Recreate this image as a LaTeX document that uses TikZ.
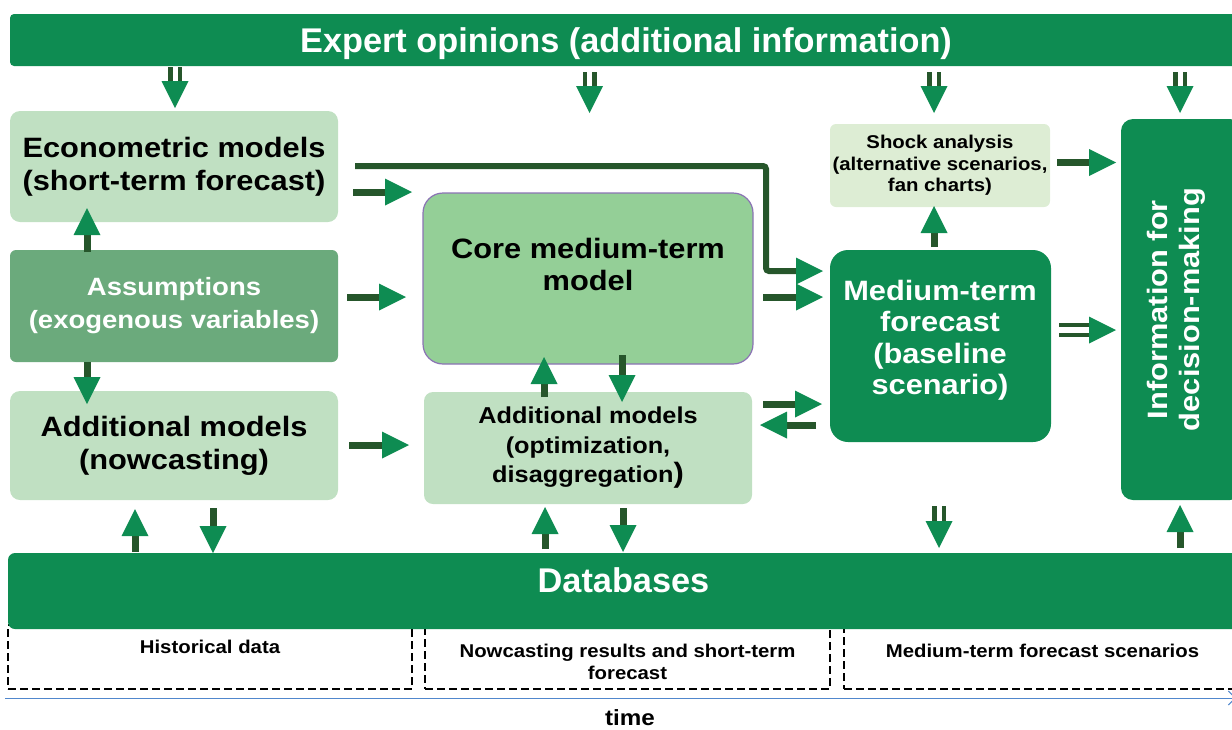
\documentclass[tikz,border=0pt]{standalone}
\usepackage{fontspec}
\setmainfont{Liberation Sans}
\newfontfamily\swfont{Liberation Sans}[FakeStretch=1.1]
\usetikzlibrary{arrows.meta,calc}
\definecolor{hg}{RGB}{14,140,82}
\definecolor{shaftc}{RGB}{38,86,43}
\definecolor{lightg}{RGB}{192,224,194}
\definecolor{assumc}{RGB}{107,170,124}
\definecolor{corec}{RGB}{148,207,151}
\definecolor{shockc}{RGB}{221,237,212}
\definecolor{corebord}{RGB}{139,115,180}
\definecolor{timeblue}{RGB}{80,135,205}
\begin{document}
\begin{tikzpicture}[x=1pt,y=-1pt,
  box/.style={rectangle, inner sep=0pt, align=center},
  txt/.style={inner sep=0pt, align=center},
  dbox/.style={rectangle, draw=black, line width=1.1pt, dash pattern=on 8pt off 4pt, inner sep=0pt},
  lab/.style={inner sep=0pt, align=center, font=\swfont\bfseries\fontsize{18.5}{22}\selectfont},
  arr/.style={draw=shaftc, line width=7pt, -{Triangle[length=27pt, width=27pt, line width=0pt, color=hg]}},
  dshaft/.style={draw=shaftc, line width=4.5pt, double=white, double distance=5pt},
  headonly/.style={draw=hg, line width=0.01pt, -{Triangle[length=27pt, width=27pt, line width=0pt, color=hg]}},
  timeline/.style={draw=timeblue, line width=1pt, -{Straight Barb[length=7pt, width=14pt, line width=1pt]}}
]
\useasboundingbox (0,0) rectangle (1232,729);

% ---- dashed period boxes (behind the database bar)
\node[dbox, minimum width=404pt, minimum height=64pt] (h1) at (210,657) {};
\node[dbox, minimum width=405pt, minimum height=64pt] (h2) at (627.5,657) {};
\node[dbox, minimum width=400pt, minimum height=64pt] (h3) at (1044,657) {};
\node[lab, anchor=base] (h1t) at (210,653) {Historical data};
\node[lab, anchor=north] (h2t) at (627.5,643.5) {Nowcasting results and short-term\\forecast};
\node[lab, anchor=base] (h3t) at (1042.5,657) {Medium-term forecast scenarios};

% ---- main bars
\node[box, fill=hg, rounded corners=4pt, minimum width=1232pt, minimum height=52pt] (expert) at (626,40) {};
\node[txt, text=white, font=\bfseries\fontsize{34.3}{36}\selectfont] (experttxt) at (626,44) {Expert opinions (additional information)};
\node[box, fill=hg, rounded corners=7pt, minimum width=1232pt, minimum height=76pt] (db) at (624,591) {};
\node[txt, text=white, font=\bfseries\fontsize{34.3}{36}\selectfont] (dbtxt) at (623.5,580) {Databases};

% ---- left column
\node[box, fill=lightg, rounded corners=10pt, minimum width=328pt, minimum height=111pt,
  font=\swfont\bfseries\fontsize{28}{33}\selectfont] (econ) at (174,166.5) {Econometric models\\(short-term forecast)};
\node[box, fill=assumc, rounded corners=6pt, minimum width=328pt, minimum height=112pt, text=white,
  font=\swfont\bfseries\fontsize{25}{33}\selectfont] (assum) at (174,306) {Assumptions\\(exogenous variables)};
\node[box, fill=lightg, rounded corners=10pt, minimum width=328pt, minimum height=109pt,
  font=\swfont\bfseries\fontsize{28}{33}\selectfont] (nowc) at (174,445.5) {Additional models\\(nowcasting)};

% ---- middle column
\node[box, fill=corec, draw=corebord, line width=1.2pt, rounded corners=20pt, minimum width=330pt, minimum height=171pt] (core) at (588,278.5) {};
\node[txt, font=\swfont\bfseries\fontsize{28}{32}\selectfont] (coretxt) at (588,264) {Core medium-term\\model};
\node[box, fill=lightg, rounded corners=9pt, minimum width=328pt, minimum height=112pt,
  font=\swfont\bfseries\fontsize{23}{29.5}\selectfont] (addm) at (588,448) {Additional models\\(optimization,\\disaggregation{\fontsize{28}{28}\selectfont)}};

% ---- right columns
\node[box, fill=shockc, rounded corners=6pt, minimum width=220pt, minimum height=83pt,
  font=\swfont\bfseries\fontsize{18.5}{21.5}\selectfont] (shock) at (940,165.5) {Shock analysis\\(alternative scenarios,\\fan charts)};
\node[box, fill=hg, rounded corners=18pt, minimum width=221pt, minimum height=192pt] (medium) at (940.5,346) {};
\node[txt, text=white, font=\swfont\bfseries\fontsize{28}{31.5}\selectfont] (mediumtxt) at (940,340.5) {Medium-term\\forecast\\(baseline\\scenario)};
\node[box, fill=hg, rounded corners=12pt, minimum width=121pt, minimum height=381pt] (info) at (1181.5,309.5) {};
\node[txt, text=white, rotate=90, font=\swfont\bfseries\fontsize{28}{32}\selectfont] (infotxt) at (1176,309.5) {Information for\\decision-making};

% ---- time axis
\coordinate (tl0) at (5,698);
\coordinate (tl1) at (1236,698);
\draw[timeline] (tl0) -- (tl1);
\node[txt, font=\swfont\bfseries\fontsize{22}{24}\selectfont] (timetxt) at (630,718) {time};

% ---- single block arrows
\coordinate (a1s) at (353,192);   \coordinate (a1e) at (412,192);
\coordinate (a2s) at (347,297);   \coordinate (a2e) at (406,297);
\coordinate (a3s) at (349,445);   \coordinate (a3e) at (409,445);
\coordinate (a4s) at (763,297);   \coordinate (a4e) at (823,297);
\coordinate (a5s) at (763,404);   \coordinate (a5e) at (822,404);
\coordinate (a6s) at (816,425);   \coordinate (a6e) at (760,425);
\coordinate (a7s) at (1057,162.5);\coordinate (a7e) at (1116,162.5);
\coordinate (a9s) at (87,252);    \coordinate (a9e) at (87,208);
\coordinate (a10s) at (87,362);   \coordinate (a10e) at (87,404);
\coordinate (a11s) at (544,397);  \coordinate (a11e) at (544,357);
\coordinate (a12s) at (622,355);  \coordinate (a12e) at (622,402);
\coordinate (a13s) at (934,247);  \coordinate (a13e) at (934,206);
\coordinate (a14s) at (135,552);  \coordinate (a14e) at (135,509);
\coordinate (a15s) at (213,508);  \coordinate (a15e) at (213,553);
\coordinate (a16s) at (545,549);  \coordinate (a16e) at (545,507);
\coordinate (a17s) at (623,508);  \coordinate (a17e) at (623,552);
\coordinate (a18s) at (1180,548); \coordinate (a18e) at (1180,505);
\foreach \i in {1,2,3,4,5,6,7,9,10,11,12,13,14,15,16,17,18}
  \draw[arr] (a\i s) -- (a\i e);

% econometric models -> medium-term forecast (bent line)
\coordinate (bs) at (355,166);
\coordinate (bk) at (766,271);
\coordinate (be) at (823,271);
\draw[arr, line width=6pt, rounded corners=3pt] (bs) -| (bk) -- (be);

% ---- double-shaft arrows
\coordinate (d1s) at (175,67);    \coordinate (d1m) at (175,81);    \coordinate (d1e) at (175,108);
\coordinate (d2s) at (589.5,72);  \coordinate (d2m) at (589.5,86);  \coordinate (d2e) at (589.5,113);
\coordinate (d3s) at (934,72);    \coordinate (d3m) at (934,86);    \coordinate (d3e) at (934,113);
\coordinate (d4s) at (1180,72);   \coordinate (d4m) at (1180,86);   \coordinate (d4e) at (1180,113);
\coordinate (d5s) at (939,506);   \coordinate (d5m) at (939,521);   \coordinate (d5e) at (939,548);
\foreach \i in {1,2,3,4,5}{
  \draw[dshaft] (d\i s) -- (d\i m);
  \draw[headonly] (d\i m) -- (d\i e);
}
\coordinate (d8s) at (1059,330);  \coordinate (d8m) at (1089,330);  \coordinate (d8e) at (1116,330);
\draw[dshaft, line width=4pt, double distance=6pt] (d8s) -- (d8m);
\draw[headonly] (d8m) -- (d8e);
\end{tikzpicture}
\end{document}
